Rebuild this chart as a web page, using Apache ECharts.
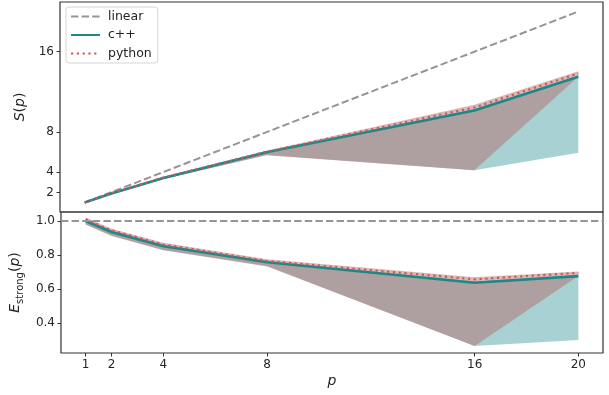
<!DOCTYPE html>
<html>
<head>
<meta charset="UTF-8">
<title>strong scaling</title>
<script src="https://cdn.jsdelivr.net/npm/echarts@6/dist/echarts.min.js"></script>
<style>
body { margin: 0; padding: 0; background: #fff; }
#main { width: 609px; height: 395px; }
</style>
</head>
<body>
<div id="main"></div>
<script>
// processes
var procs = [1, 2, 4, 8, 16, 20];

// speedup S(p)
var speedCpp = [1.0, 1.87, 3.41, 6.0, 10.15, 13.5];
var speedPy = [1.0, 1.9, 3.45, 6.05, 10.45, 13.85];
var speedCppHi = [1.03, 1.92, 3.47, 6.08, 10.3, 13.58];
var speedCppLo = [0.97, 1.8, 3.3, 5.72, 4.2, 5.95];
var speedPyHi = [1.04, 1.97, 3.55, 6.15, 10.72, 14.05];
var speedPyLo = [0.97, 1.8, 3.3, 5.7, 4.2, 13.5];

// efficiency E_strong(p)
var effCpp = [1.0, 0.935, 0.852, 0.758, 0.637, 0.676];
var effPy = [1.01, 0.945, 0.862, 0.765, 0.657, 0.695];
var effCppHi = [1.01, 0.945, 0.862, 0.765, 0.645, 0.68];
var effCppLo = [0.98, 0.915, 0.83, 0.735, 0.265, 0.3];
var effPyHi = [1.02, 0.955, 0.872, 0.775, 0.67, 0.703];
var effPyLo = [0.98, 0.912, 0.828, 0.733, 0.265, 0.676];

var xTicks = [1, 2, 4, 8, 16, 20];
var sTicks = [2, 4, 8, 16];
var eTicks = [0.4, 0.6, 0.8, 1.0];

var cGray = '#9a9393', cTeal = '#1c8888', cRed = '#c85a5a';
var font = 'DejaVu Sans';

function pairs(ys) {
    return procs.map(function (x, i) { return [x, ys[i]]; });
}

// filled band between hi and lo, drawn once as polygon
function band(name, grid, hi, lo, fill) {
    return {
        name: name + '-band', type: 'custom',
        xAxisIndex: grid, yAxisIndex: grid,
        silent: true, z: 1,
        data: pairs(hi),
        renderItem: function (params, api) {
            if (params.dataIndex !== 0) return null;
            var pts = [];
            for (var i = 0; i < procs.length; i++) pts.push(api.coord([procs[i], hi[i]]));
            for (var j = procs.length - 1; j >= 0; j--) pts.push(api.coord([procs[j], lo[j]]));
            return { type: 'polygon', shape: { points: pts }, style: { fill: fill } };
        }
    };
}

function line(name, grid, ys, color, type, width) {
    return {
        name: name, type: 'line', xAxisIndex: grid, yAxisIndex: grid,
        data: pairs(ys), showSymbol: false, symbol: 'none', z: 3,
        lineStyle: { color: color, type: type, width: width, cap: 'butt' },
        itemStyle: { color: color }
    };
}

var tickStyle = { show: true, length: 3.5, lineStyle: { color: '#333', width: 1 } };
var labelStyle = { color: '#262626', fontFamily: font, fontSize: 12 };

var chart = echarts.init(document.getElementById('main'), null, { renderer: 'canvas' });
var option = {
    animation: false,
    backgroundColor: '#fff',
    grid: [
        { left: 60, top: 2, width: 543, height: 210, show: true, borderColor: '#333', borderWidth: 1.2, backgroundColor: 'transparent' },
        { left: 60, top: 212, width: 543, height: 141, show: true, borderColor: '#333', borderWidth: 1.2, backgroundColor: 'transparent' }
    ],
    legend: {
        orient: 'vertical', left: 66, top: 7,
        data: ['linear', 'c++', 'python'],
        itemWidth: 29, itemHeight: 14, itemGap: 5.5,
        padding: [3, 6, 3, 4],
        itemStyle: { opacity: 0 },
        backgroundColor: '#fff', borderColor: '#d6d6d6', borderWidth: 1, borderRadius: 3,
        textStyle: { color: '#262626', fontFamily: font, fontSize: 12.5, padding: [0, 0, 0, 3] }
    },
    xAxis: [
        { type: 'value', gridIndex: 0, min: 0.05, max: 20.95,
          axisLine: { show: false }, axisTick: { show: false }, axisLabel: { show: false }, splitLine: { show: false } },
        { type: 'value', gridIndex: 1, min: 0.05, max: 20.95,
          axisLine: { show: false }, splitLine: { show: false },
          axisTick: Object.assign({ customValues: xTicks }, tickStyle),
          axisLabel: Object.assign({ customValues: xTicks, margin: 6 }, labelStyle),
          name: 'p', nameLocation: 'middle', nameGap: 21,
          nameTextStyle: { color: '#262626', fontFamily: font, fontSize: 14, fontStyle: 'italic' } }
    ],
    yAxis: [
        { type: 'value', gridIndex: 0, min: 0.05, max: 20.95,
          axisLine: { show: false }, splitLine: { show: false },
          axisTick: Object.assign({ customValues: sTicks }, tickStyle),
          axisLabel: Object.assign({ customValues: sTicks, margin: 6 }, labelStyle),
          name: '{i|S}{n|(}{i|p}{n|)}', nameLocation: 'middle', nameGap: 30, nameRotate: 90,
          nameTextStyle: { rich: {
              i: { fontFamily: font, fontSize: 14, fontStyle: 'italic', color: '#262626' },
              n: { fontFamily: font, fontSize: 14, color: '#262626' } } } },
        { type: 'value', gridIndex: 1, min: 0.224, max: 1.053,
          axisLine: { show: false }, splitLine: { show: false },
          axisTick: Object.assign({ customValues: eTicks }, tickStyle),
          axisLabel: Object.assign({ customValues: eTicks, margin: 6,
              formatter: function (v) { return v.toFixed(1); } }, labelStyle),
          name: '{i|E}{s|strong}{n|(}{i|p}{n|)}', nameLocation: 'middle', nameGap: 30, nameRotate: 90,
          nameTextStyle: { rich: {
              i: { fontFamily: font, fontSize: 14, fontStyle: 'italic', color: '#262626' },
              s: { fontFamily: font, fontSize: 10, color: '#262626', padding: [10, 0, 0, 0] },
              n: { fontFamily: font, fontSize: 14, color: '#262626' } } } }
    ],
    series: [
        band('c++', 0, speedCppHi, speedCppLo, 'rgba(0,120,125,0.34)'),
        band('python', 0, speedPyHi, speedPyLo, 'rgba(180,112,110,0.5)'),
        band('c++', 1, effCppHi, effCppLo, 'rgba(0,120,125,0.34)'),
        band('python', 1, effPyHi, effPyLo, 'rgba(180,112,110,0.5)'),
        line('linear', 0, procs, cGray, [7.4, 3.2], 2),
        {
            name: 'linear', type: 'line', xAxisIndex: 1, yAxisIndex: 1, data: [],
            lineStyle: { color: cGray, type: [7.4, 3.2], width: 2 },
            markLine: { silent: true, symbol: 'none', label: { show: false },
                lineStyle: { color: cGray, type: [7.4, 3.2], width: 2 },
                data: [{ yAxis: 1 }] }
        },
        line('c++', 0, speedCpp, cTeal, 'solid', 2.6),
        line('python', 0, speedPy, cRed, [2.2, 3.6], 2.2),
        line('c++', 1, effCpp, cTeal, 'solid', 2.6),
        line('python', 1, effPy, cRed, [2.2, 3.6], 2.2)
    ]
};
chart.setOption(option);
</script>
</body>
</html>
